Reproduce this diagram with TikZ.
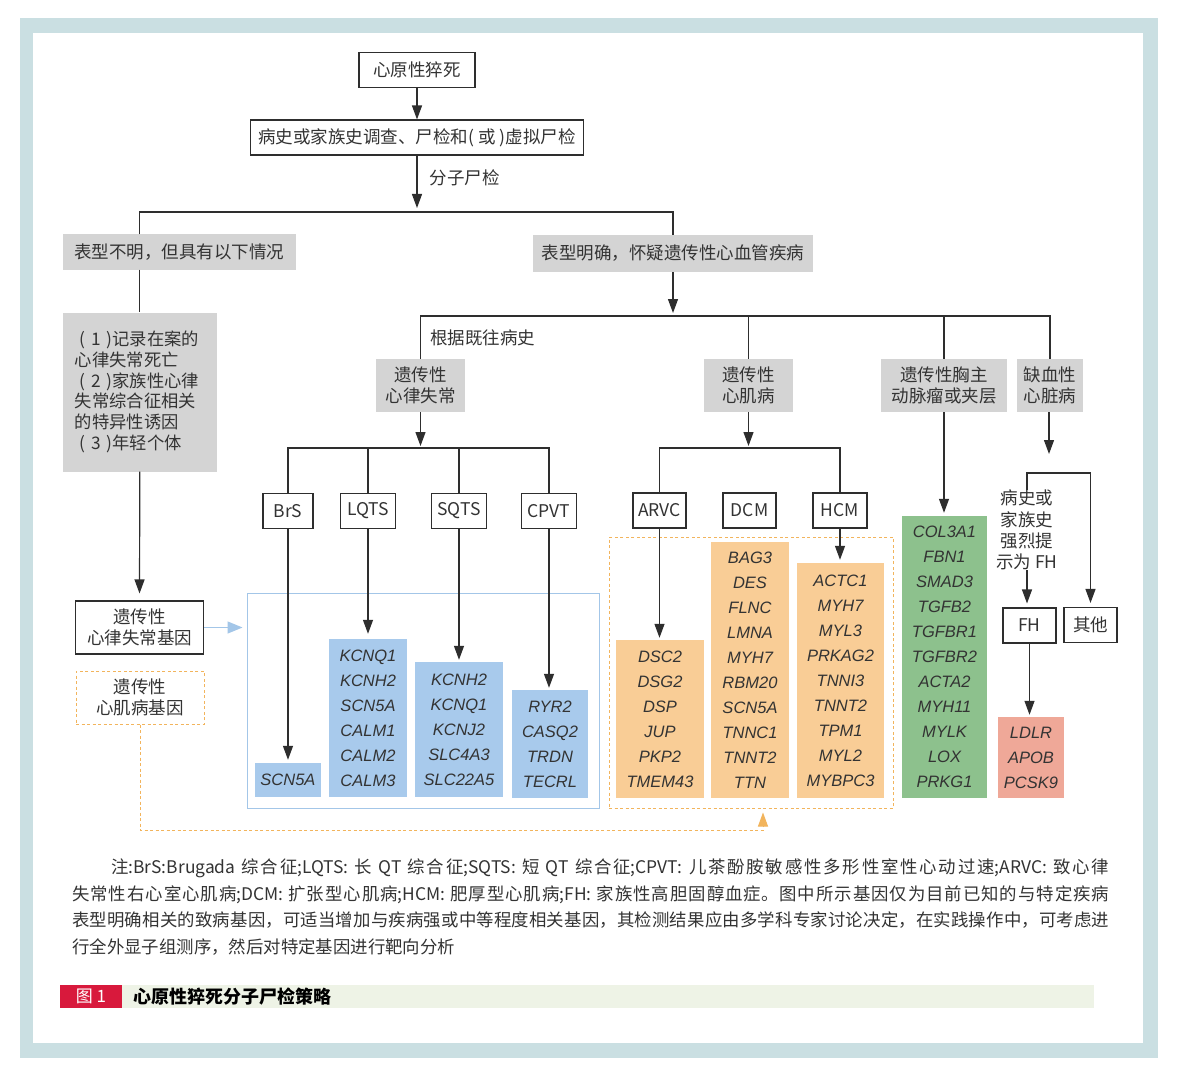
\documentclass[tikz,border=0pt]{standalone}
\usepackage{fontspec}
\setmainfont{Noto Sans CJK SC}
\newfontfamily\genefont{Liberation Sans}
\usetikzlibrary{arrows.meta}
\definecolor{frameblue}{HTML}{CADFE2}
\definecolor{linec}{HTML}{2E2E2E}
\definecolor{txt}{HTML}{333333}
\definecolor{greyc}{HTML}{D4D4D4}
\definecolor{gblue}{HTML}{A8CAEC}
\definecolor{gorange}{HTML}{F9CD96}
\definecolor{ggreen}{HTML}{8DC18D}
\definecolor{gred}{HTML}{EFA898}
\definecolor{bframe}{HTML}{A3C6E8}
\definecolor{oline}{HTML}{F2B45C}
\definecolor{capred}{HTML}{D8193C}
\definecolor{capgreen}{HTML}{EEF3E6}
\XeTeXlinebreaklocale "zh"
\XeTeXlinebreakskip=0pt plus 1.5pt minus 0.4pt

\begin{document}
\begin{tikzpicture}[x=1pt, y=-1pt,
    box/.style = {draw=linec, line width=1.1pt, fill=white, inner sep=0pt, text=txt, align=center, font=\fontsize{17.5}{21.5}\selectfont},
    greybox/.style = {fill=greyc, inner sep=0pt, text=txt, align=center, font=\fontsize{17.5}{21.5}\selectfont},
    gene/.style = {inner sep=0pt, text=txt, align=center, font=\genefont\itshape\fontsize{16.5}{25}\selectfont},
    ln/.style = {draw=linec, line width=1.2pt},
    arr/.style = {ln, -{Triangle[length=14pt,width=10pt]}},
    odash/.style = {draw=oline, line width=1pt, dash pattern=on 3pt off 2.5pt}]
    \useasboundingbox (0,0) rectangle (1178,1078);
    \fill[white] (0,0) rectangle (1178,1078);
    \fill[frameblue] (20,18) rectangle (1158,1058);
    \fill[white] (33,33) rectangle (1143,1043);

    % top
    \node[box, minimum width=116, minimum height=35] (sd) at (417,70) {心原性猝死};
    \node[box, minimum width=333, minimum height=35] (inv) at (417,137.5) {病史或家族史调查、尸检和( 或 )虚拟尸检};
    \coordinate (b1) at (417,212);
    \node[greybox, minimum width=233, minimum height=35] (unk) at (179,252) {表型不明，但具有以下情况};
    \node[greybox, minimum width=280, minimum height=37] (known) at (673,253.5) {表型明确，怀疑遗传性心血管疾病};
    \node[greybox, minimum width=154, minimum height=159, text width=130, align=left, font=\fontsize{17.3}{20.7}\selectfont] (nc) at (139.8,392) {\hspace*{5pt}( 1 )记录在案的\\心律失常死亡\\\hspace*{5pt}( 2 )家族性心律\\失常综合征相关\\的特异性诱因\\\hspace*{5pt}( 3 )年轻个体};
    \draw[arr] (sd) -- (inv);
    \draw[arr, shorten >=4pt] (inv) -- node[pos=0.4, anchor=west, xshift=9pt, text=txt, font=\fontsize{17.5}{20}\selectfont] {分子尸检} (b1);
    \draw[ln] (unk.north -| nc.north) |- (b1) -| (known.north);
    \draw[ln] (unk.south -| nc.north) -- (nc.north);

    % left gene legend
    \node[box, minimum width=128, minimum height=53] (ag) at (139.5,627.5) {遗传性\\心律失常基因};
    \node[box, odash, minimum width=128, minimum height=53] (mg) at (140,697.5) {遗传性\\心肌病基因};
    \draw[arr, shorten >=7pt] (nc.south) -- (ag.north);

    % disease groups
    \coordinate (b2) at (672,316);
    \node[greybox, minimum width=89, minimum height=53] (ga) at (420.5,385.5) {遗传性\\心律失常};
    \node[greybox, minimum width=89, minimum height=53] (gb) at (748.5,385.5) {遗传性\\心肌病};
    \node[greybox, minimum width=126, minimum height=53] (gc) at (944,385.5) {遗传性胸主\\动脉瘤或夹层};
    \node[greybox, minimum width=66, minimum height=53] (gd) at (1050,385.5) {缺血性\\心脏病};
    \draw[arr, shorten >=3pt] (known.south) -- (known.south |- b2);
    \draw[ln] (ga.north) -- node[anchor=west, xshift=6pt, text=txt, font=\fontsize{17.5}{20}\selectfont] {根据既往病史} (ga.north |- b2) -- (gd.north |- b2) -- (gd.north);
    \draw[ln] (gb.north |- b2) -- (gb.north);
    \draw[ln] (gc.north |- b2) -- (gc.north);

    % subtypes
    \node[box, minimum width=50, minimum height=35] (brs) at (288,511) {BrS};
    \node[box, minimum width=55, minimum height=35] (lqts) at (368,511) {LQTS};
    \node[box, minimum width=55, minimum height=35] (sqts) at (459,511) {SQTS};
    \node[box, minimum width=55, minimum height=35] (cpvt) at (549,511) {CPVT};
    \node[box, minimum width=53, minimum height=35] (arvc) at (659.5,510.5) {ARVC};
    \node[box, minimum width=53, minimum height=35] (dcm) at (749.5,510.5) {DCM};
    \node[box, minimum width=54, minimum height=35] (hcm) at (840,510.5) {HCM};
    \coordinate (b3) at (420.5,448);
    \coordinate (b4) at (748.5,448);
    \draw[arr, shorten >=2pt] (ga) -- (b3);
    \draw[ln] (brs.north) |- (b3) -| (cpvt.north);
    \draw[ln] (lqts.north) -- (lqts.north |- b3);
    \draw[ln] (sqts.north) -- (sqts.north |- b3);
    \draw[arr, shorten >=2pt] (gb) -- (b4);
    \draw[ln] (arvc.north) |- (b4) -| (hcm.north);

    % gene frames
    \node[draw=bframe, line width=1pt, inner sep=0pt, minimum width=352, minimum height=215] (bf) at (423,700.5) {};
    \node[odash, inner sep=0pt, minimum width=284, minimum height=271] (of) at (751,672.5) {};
    \draw[draw=bframe, line width=1.2pt, -{Triangle[length=15pt,width=12pt]}, shorten >=4pt] (ag.east) -- (bf.west |- ag.east);
    \coordinate (oc) at (763,830);
    \draw[odash, -{Triangle[length=14pt,width=10pt]}, shorten >=4pt] (mg.south) |- (oc) -- (of.south -| oc);

    % genes
    \node[gene, fill=gblue, minimum width=66, minimum height=34] (g1) at (288,780) {SCN5A};
    \node[gene, fill=gblue, minimum width=78, minimum height=158] (g2) at (368,718) {KCNQ1\\KCNH2\\SCN5A\\CALM1\\CALM2\\CALM3};
    \node[gene, fill=gblue, minimum width=88, minimum height=135] (g3) at (459,729.5) {KCNH2\\KCNQ1\\KCNJ2\\SLC4A3\\SLC22A5};
    \node[gene, fill=gblue, minimum width=76, minimum height=108] (g4) at (550,744) {RYR2\\CASQ2\\TRDN\\TECRL};
    \node[gene, fill=gorange, minimum width=88, minimum height=158] (g5) at (660,719) {DSC2\\DSG2\\DSP\\JUP\\PKP2\\TMEM43};
    \node[gene, fill=gorange, minimum width=78, minimum height=256] (g6) at (750,670) {BAG3\\DES\\FLNC\\LMNA\\MYH7\\RBM20\\SCN5A\\TNNC1\\TNNT2\\TTN};
    \node[gene, fill=gorange, minimum width=87, minimum height=235] (g7) at (840.5,680.5) {ACTC1\\MYH7\\MYL3\\PRKAG2\\TNNI3\\TNNT2\\TPM1\\MYL2\\MYBPC3};
    \node[gene, fill=ggreen, minimum width=85, minimum height=282] (g8) at (944.5,657) {COL3A1\\FBN1\\SMAD3\\TGFB2\\TGFBR1\\TGFBR2\\ACTA2\\MYH11\\MYLK\\LOX\\PRKG1};
    \node[gene, fill=gred, minimum width=66, minimum height=81] (g9) at (1031,757.5) {LDLR\\APOB\\PCSK9};
    \draw[arr, shorten >=3pt] (brs.south) -- (brs.south |- g1.north);
    \draw[arr, shorten >=5pt] (lqts.south) -- (lqts.south |- g2.north);
    \draw[arr, shorten >=2pt] (sqts.south) -- (sqts.south |- g3.north);
    \draw[arr, shorten >=2pt] (cpvt.south) -- (cpvt.south |- g4.north);
    \draw[arr, shorten >=2pt] (arvc.south) -- (arvc.south |- g5.north);
    \draw[arr, shorten >=3pt] (hcm.south) -- (hcm.south |- g7.north);
    \draw[arr, shorten >=3pt] (gc.south) -- (gc.south |- g8.north);

    % ischaemic branch
    \coordinate (gdend) at (1049,454);
    \coordinate (b5) at (1058,473);
    \node[inner sep=0pt, text=txt, align=center, font=\fontsize{17.5}{21.3}\selectfont] (fhq) at (1027,530) {病史或\\家族史\\强烈提\\示为 FH};
    \node[box, minimum width=53, minimum height=35] (fh) at (1029.5,625.5) {FH};
    \node[box, minimum width=53, minimum height=35] (other) at (1090.5,625) {其他};
    \draw[arr] (gd.south -| gdend) -- (gdend);
    \draw[arr, shorten >=4pt] (fhq.north) |- (b5) -| (other.north);
    \draw[arr, shorten >=4pt] (fhq.south) -- (fhq.south |- fh.north);
    \draw[arr, shorten >=2pt] (fh.south) -- (fh.south |- g9.north);

    % note and caption
    \node[anchor=north west, inner sep=0pt, text width=1037, align=justify, text=txt, font=\fontsize{17.4}{26.5}\selectfont] (note) at (72,859) {\hspace*{39pt}注:BrS:Brugada 综合征;LQTS: 长 QT 综合征;SQTS: 短 QT 综合征;CPVT: 儿茶酚胺敏感性多形性室性心动过速;ARVC: 致心律\linebreak 失常性右心室心肌病;DCM: 扩张型心肌病;HCM: 肥厚型心肌病;FH: 家族性高胆固醇血症。图中所示基因仅为目前已知的与特定疾病\linebreak 表型明确相关的致病基因，可适当增加与疾病强或中等程度相关基因，其检测结果应由多学科专家讨论决定，在实践操作中，可考虑进\linebreak 行全外显子组测序，然后对特定基因进行靶向分析};
    \node[fill=capred, text=white, inner sep=0pt, minimum width=62, minimum height=23, font=\fontsize{17}{20}\selectfont] (fig) at (91,996.5) {图 1};
    \node[fill=capgreen, anchor=west, inner sep=0pt, minimum width=972, minimum height=23] (bar) at (fig.east) {};
    \node[anchor=west, inner sep=0pt, text=black, font=\bfseries\fontsize{18}{20}\selectfont] (title) at (133,996.5) {心原性猝死分子尸检策略};
\end{tikzpicture}
\end{document}
